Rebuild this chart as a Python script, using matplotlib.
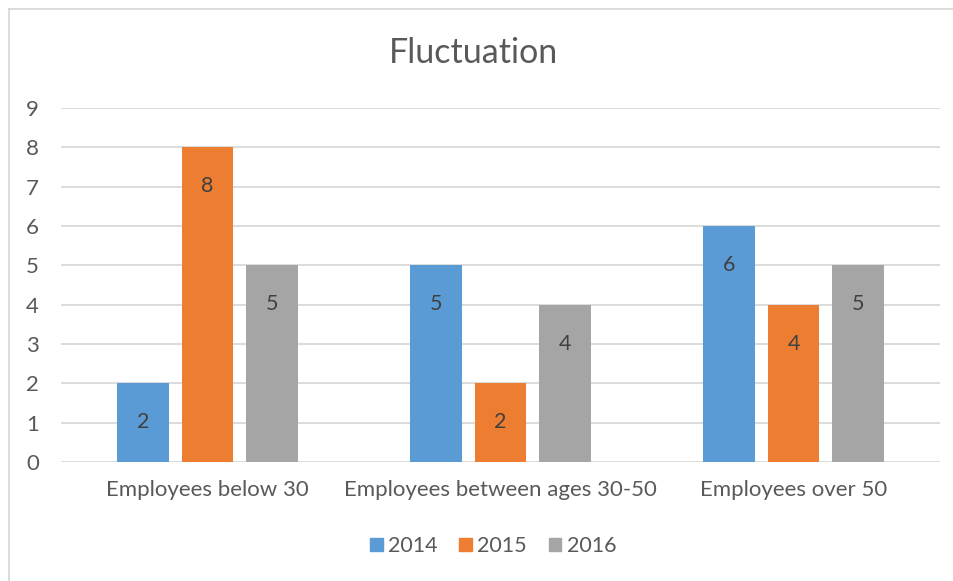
import matplotlib
matplotlib.use("Agg")
import matplotlib.pyplot as plt
from matplotlib.lines import Line2D
import numpy as np

plt.rcParams['font.family'] = ['Lato', 'DejaVu Sans']

categories = ["Employees below 30", "Employees between ages 30-50", "Employees over 50"]
series_names = ["2014", "2015", "2016"]
v2014 = [2, 5, 6]
v2015 = [8, 2, 4]
v2016 = [5, 4, 5]
yticks = [0, 1, 2, 3, 4, 5, 6, 7, 8, 9]
colors = ["#5B9BD5", "#ED7D31", "#A5A5A5"]

fig = plt.figure(figsize=(9.54, 5.81), dpi=100)
ax = fig.add_axes([61/954, 1-462/581, (940-61)/954, (462-108)/581])

x = np.arange(len(categories))
width = 0.177
step = 0.22
for i, (vals, name, c) in enumerate(zip([v2014, v2015, v2016], series_names, colors)):
    bars = ax.bar(x + (i-1)*step, vals, width, color=c, label=name, zorder=3)
    for b, v in zip(bars, vals):
        ax.annotate(str(v), (b.get_x()+b.get_width()/2, v), xytext=(0, -28),
                    textcoords='offset points', ha='center', va='center',
                    fontsize=15.5, color='#404040', zorder=4)

ax.set_xlim(-0.5, 2.5)
ax.set_ylim(0, 9)
ax.set_yticks(yticks)
ax.set_xticks(x)
ax.set_xticklabels(categories)
ax.tick_params(axis='both', length=0, labelsize=16, colors='#595959')
ax.tick_params(axis='y', pad=16)
ax.tick_params(axis='x', pad=13)
ax.grid(axis='y', color='#D9D9D9', linewidth=1.3, zorder=0)
for s in ax.spines.values():
    s.set_visible(False)

fig.text(474/954, 1-53/581, "Fluctuation", ha='center', va='center', fontsize=24.5, color='#595959')

handles = [plt.Rectangle((0, 0), 1, 1, color=c) for c in colors]
fig.legend(handles, series_names, loc='center', bbox_to_anchor=(493/954, 1-546/581),
           ncol=3, frameon=False, fontsize=15.5, handlelength=0.6, handleheight=0.6,
           handletextpad=0.25, columnspacing=1.0, labelcolor='#595959')

fig.add_artist(Line2D([9/954, 9/954], [0, 1-9/581], color='#D9D9D9', linewidth=1.3, transform=fig.transFigure))
fig.add_artist(Line2D([9/954, 1], [1-9/581, 1-9/581], color='#D9D9D9', linewidth=1.3, transform=fig.transFigure))

fig.savefig("out.png", dpi=100)
